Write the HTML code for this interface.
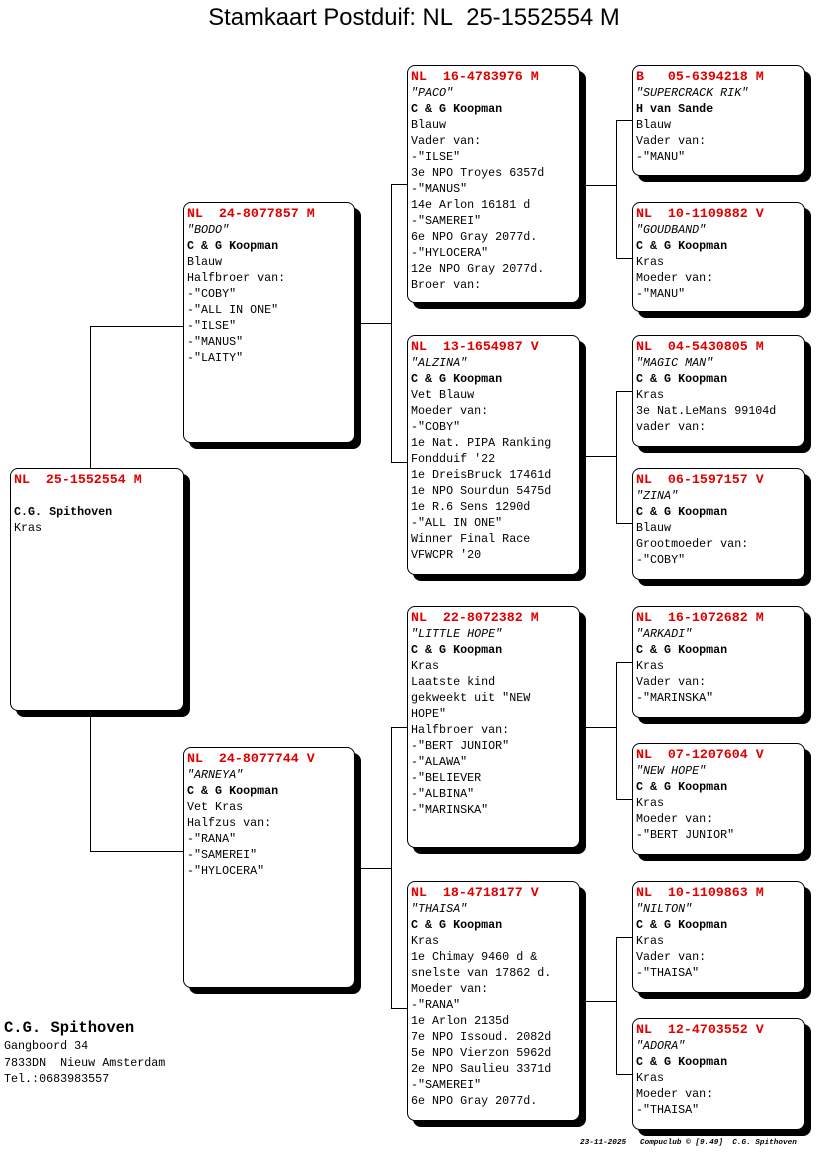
<!DOCTYPE html>
<html><head><meta charset="utf-8"><style>
body{margin:0;width:816px;height:1172px;background:#fff;position:relative;overflow:hidden;font-family:"Liberation Mono",monospace}
.t{position:absolute;left:0;width:828px;top:4px;text-align:center;font:23.8px "Liberation Sans",sans-serif}
.b{position:absolute;width:172px;border:1px solid #000;border-radius:8px;background:#fff;box-shadow:6px 6px 0 #000;padding:3px 3px;box-sizing:border-box;font-size:11.7px;line-height:16px;white-space:pre;overflow:hidden}
.b .h{color:#e00000;font-weight:bold;font-size:13.3px}
.b i{font-style:italic}
.b .o{font-weight:bold}
svg{position:absolute;left:0;top:0}
.addr{position:absolute;left:4px;top:1018px;font-size:11.7px;line-height:16.5px;white-space:pre}
.addr b{font-size:15.5px;line-height:20px}
.ft{position:absolute;left:580px;top:1139px;font:italic bold 7.7px "Liberation Mono",monospace;white-space:pre}
</style></head><body>
<div class="t">Stamkaart Postduif: NL&nbsp; 25-1552554 M</div>
<svg width="816" height="1172"><g stroke="#000" stroke-width="1" fill="none" shape-rendering="crispEdges">
<path d="M90.5 326.5V851.5M90 326.5H183M90 851.5H183"/>
<path d="M356 323.5H391.5M391.5 184V462M391 184.5H407M391 462.5H407"/>
<path d="M356 868.5H391.5M391.5 727V1008M391 727.5H407M391 1008.5H407"/>
<path d="M580 185.5H616.5M616.5 120V258M616 120.5H632M616 258.5H632"/>
<path d="M580 456.5H616.5M616.5 391V523M616 391.5H632M616 523.5H632"/>
<path d="M580 727.5H616.5M616.5 662V799M616 662.5H632M616 799.5H632"/>
<path d="M580 1001.5H616.5M616.5 937V1074M616 937.5H632M616 1074.5H632"/>
</g></svg>

<div class="b" style="left:10px;top:468px;height:243px;width:174px"><span class="h">NL  25-1552554 M</span>

<span class="o">C.G. Spithoven</span>
Kras</div>

<div class="b" style="left:183px;top:202px;height:241px"><span class="h">NL  24-8077857 M</span>
<i>"BODO"</i>
<span class="o">C &amp; G Koopman</span>
Blauw
Halfbroer van:
-"COBY"
-"ALL IN ONE"
-"ILSE"
-"MANUS"
-"LAITY"</div>

<div class="b" style="left:183px;top:747px;height:241px"><span class="h">NL  24-8077744 V</span>
<i>"ARNEYA"</i>
<span class="o">C &amp; G Koopman</span>
Vet Kras
Halfzus van:
-"RANA"
-"SAMEREI"
-"HYLOCERA"</div>

<div class="b" style="left:407px;top:65px;height:238px;width:173px"><span class="h">NL  16-4783976 M</span>
<i>"PACO"</i>
<span class="o">C &amp; G Koopman</span>
Blauw
Vader van:
-"ILSE"
3e NPO Troyes 6357d
-"MANUS"
14e Arlon 16181 d
-"SAMEREI"
6e NPO Gray 2077d.
-"HYLOCERA"
12e NPO Gray 2077d.
Broer van:</div>

<div class="b" style="left:407px;top:335px;height:240px;width:173px"><span class="h">NL  13-1654987 V</span>
<i>"ALZINA"</i>
<span class="o">C &amp; G Koopman</span>
Vet Blauw
Moeder van:
-"COBY"
1e Nat. PIPA Ranking
Fondduif '22
1e DreisBruck 17461d
1e NPO Sourdun 5475d
1e R.6 Sens 1290d
-"ALL IN ONE"
Winner Final Race
VFWCPR '20</div>

<div class="b" style="left:407px;top:606px;height:242px;width:173px"><span class="h">NL  22-8072382 M</span>
<i>"LITTLE HOPE"</i>
<span class="o">C &amp; G Koopman</span>
Kras
Laatste kind
gekweekt uit "NEW
HOPE"
Halfbroer van:
-"BERT JUNIOR"
-"ALAWA"
-"BELIEVER
-"ALBINA"
-"MARINSKA"</div>

<div class="b" style="left:407px;top:881px;height:240px;width:173px"><span class="h">NL  18-4718177 V</span>
<i>"THAISA"</i>
<span class="o">C &amp; G Koopman</span>
Kras
1e Chimay 9460 d &amp;
snelste van 17862 d.
Moeder van:
-"RANA"
1e Arlon 2135d
7e NPO Issoud. 2082d
5e NPO Vierzon 5962d
2e NPO Saulieu 3371d
-"SAMEREI"
6e NPO Gray 2077d.</div>

<div class="b" style="left:632px;top:65px;height:111px;width:173px"><span class="h">B   05-6394218 M</span>
<i>"SUPERCRACK RIK"</i>
<span class="o">H van Sande</span>
Blauw
Vader van:
-"MANU"</div>

<div class="b" style="left:632px;top:202px;height:110px;width:173px"><span class="h">NL  10-1109882 V</span>
<i>"GOUDBAND"</i>
<span class="o">C &amp; G Koopman</span>
Kras
Moeder van:
-"MANU"</div>

<div class="b" style="left:632px;top:335px;height:112px;width:173px"><span class="h">NL  04-5430805 M</span>
<i>"MAGIC MAN"</i>
<span class="o">C &amp; G Koopman</span>
Kras
3e Nat.LeMans 99104d
vader van:</div>

<div class="b" style="left:632px;top:468px;height:112px;width:173px"><span class="h">NL  06-1597157 V</span>
<i>"ZINA"</i>
<span class="o">C &amp; G Koopman</span>
Blauw
Grootmoeder van:
-"COBY"</div>

<div class="b" style="left:632px;top:606px;height:112px;width:173px"><span class="h">NL  16-1072682 M</span>
<i>"ARKADI"</i>
<span class="o">C &amp; G Koopman</span>
Kras
Vader van:
-"MARINSKA"</div>

<div class="b" style="left:632px;top:743px;height:112px;width:173px"><span class="h">NL  07-1207604 V</span>
<i>"NEW HOPE"</i>
<span class="o">C &amp; G Koopman</span>
Kras
Moeder van:
-"BERT JUNIOR"</div>

<div class="b" style="left:632px;top:881px;height:112px;width:173px"><span class="h">NL  10-1109863 M</span>
<i>"NILTON"</i>
<span class="o">C &amp; G Koopman</span>
Kras
Vader van:
-"THAISA"</div>

<div class="b" style="left:632px;top:1018px;height:112px;width:173px"><span class="h">NL  12-4703552 V</span>
<i>"ADORA"</i>
<span class="o">C &amp; G Koopman</span>
Kras
Moeder van:
-"THAISA"</div>

<div class="addr"><b>C.G. Spithoven</b>
Gangboord 34
7833DN  Nieuw Amsterdam
Tel.:0683983557</div>
<div class="ft">23-11-2025   Compuclub © [9.49]  C.G. Spithoven</div>
</body></html>
